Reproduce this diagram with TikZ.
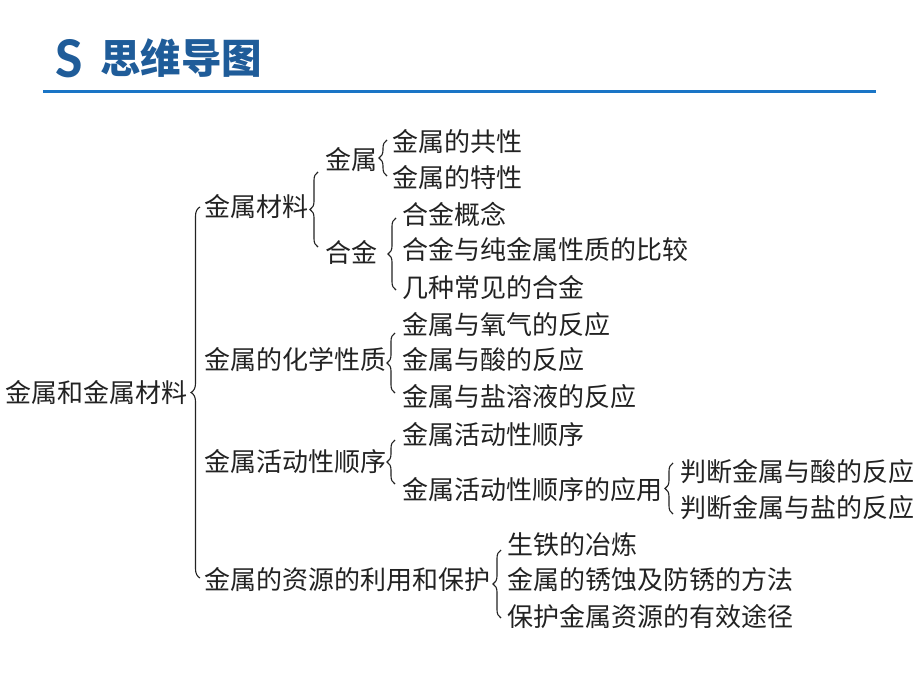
\documentclass[tikz,border=0pt]{standalone}
\usepackage{fontspec}
\newfontfamily\cjk{Noto Sans CJK SC}
\newfontfamily\titlelat{Carlito}
\usetikzlibrary{decorations.pathreplacing,calc}
\definecolor{titleblue}{HTML}{1F5C99}
\definecolor{lineblue}{HTML}{1A75C6}
\definecolor{textc}{HTML}{222222}
\tikzset{
  txt/.style={font=\cjk\fontsize{26}{30}\selectfont, inner sep=0pt, text height=22.9pt, text depth=3.1pt, anchor=west, text=textc},
  brc/.style={draw=textc, line width=1.1pt, decorate, decoration={brace, amplitude=#1}},
  brc/.default=8pt
}
\newcommand{\brc}[6][8pt]{\draw[brc=#1] ($(#2.west)+(#4,#5)$) -- ($(#3.west)+(#4,#6)$);}
\begin{document}
\begin{tikzpicture}[x=1pt,y=-1pt]
\useasboundingbox (0,0) rectangle (920,690);
% title
\node[anchor=base west, inner sep=0pt, font=\titlelat\bfseries\fontsize{58}{60}\selectfont, text=titleblue] (tS) at (55,78) {S};
\node[anchor=base west, inner sep=0pt, font=\cjk\bfseries\fontsize{40.5}{44}\selectfont, text=titleblue] (tT) at (100,74) {思维导图};
\coordinate (l1) at (43,92);
\coordinate (l2) at (876,92);
\draw[lineblue, line width=3pt] (l1) -- (l2);
% nodes
\node[txt] (root) at (5,393) {金属和金属材料};
\node[txt] (a) at (204,207) {金属材料};
\node[txt] (b) at (204,360) {金属的化学性质};
\node[txt] (c) at (204,462) {金属活动性顺序};
\node[txt] (d) at (204,580) {金属的资源的利用和保护};
\node[txt] (a1) at (325,160) {金属};
\node[txt] (a2) at (325,253) {合金};
\node[txt] (a11) at (392,142) {金属的共性};
\node[txt] (a12) at (392,178) {金属的特性};
\node[txt] (a21) at (402,215) {合金概念};
\node[txt] (a22) at (402,250) {合金与纯金属性质的比较};
\node[txt] (a23) at (402,288) {几种常见的合金};
\node[txt] (b1) at (402,325) {金属与氧气的反应};
\node[txt] (b2) at (402,360) {金属与酸的反应};
\node[txt] (b3) at (402,397) {金属与盐溶液的反应};
\node[txt] (c1) at (402,435) {金属活动性顺序};
\node[txt] (c2) at (402,490) {金属活动性顺序的应用};
\node[txt] (c21) at (680,472) {判断金属与酸的反应};
\node[txt] (c22) at (680,508) {判断金属与盐的反应};
\node[txt] (d1) at (507,545) {生铁的冶炼};
\node[txt] (d2) at (507,580) {金属的锈蚀及防锈的方法};
\node[txt] (d3) at (507,617) {保护金属资源的有效途径};
% braces: bottom node, top node, dx, dy bottom, dy top
\brc[9pt]{d}{a}{-4}{-2}{0}
\brc{a2}{a1}{-7}{-6}{12}
\brc{a12}{a11}{-5}{-2}{-2}
\brc{a23}{a21}{-6}{2}{3}
\brc{b3}{b1}{-7}{-4}{8}
\brc{c2}{c1}{-7}{-6}{5}
\brc{c22}{c21}{-7}{6}{-9}
\brc{d3}{d1}{-6}{1}{5}
\end{tikzpicture}
\end{document}
